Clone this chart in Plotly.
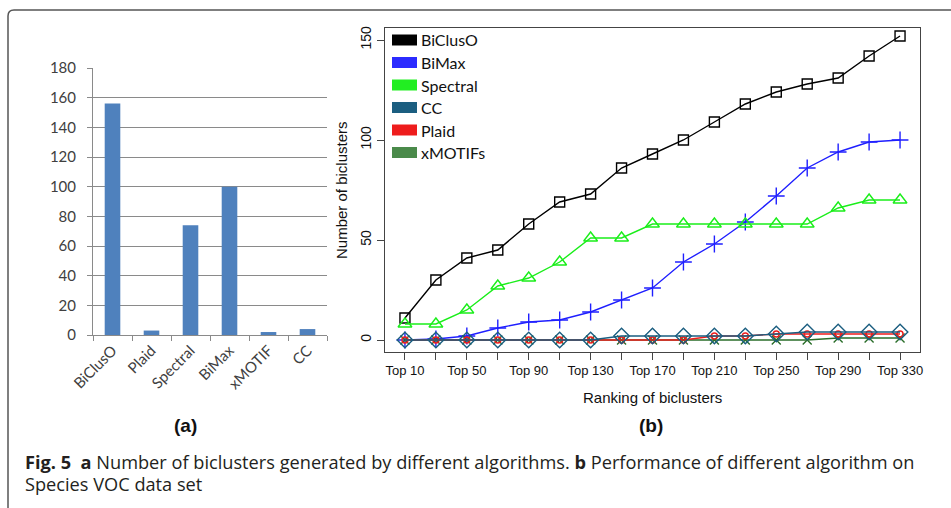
import plotly.graph_objects as go

W, H = 951, 508

# ---------------- data: panel (a) ----------------
algorithms_a = ["BiClusO", "Plaid", "Spectral", "BiMax", "xMOTIF", "CC"]
counts_a = [156, 3, 74, 100, 2, 4]

# ---------------- data: panel (b) ----------------
rank_values = [10, 30, 50, 70, 90, 110, 130, 150, 170, 190, 210, 230, 250, 270, 290, 310, 330]
rank_labels = ["Top 10", "Top 30", "Top 50", "Top 70", "Top 90", "Top 110", "Top 130",
               "Top 150", "Top 170", "Top 190", "Top 210", "Top 230", "Top 250",
               "Top 270", "Top 290", "Top 310", "Top 330"]

series_names = ["BiClusO", "BiMax", "Spectral", "CC", "Plaid", "xMOTIFs"]
bicluso = [11, 30, 41, 45, 58, 69, 73, 86, 93, 100, 109, 118, 124, 128, 131, 142, 152]
bimax = [0, 0.5, 2, 6, 9, 10, 14, 20, 26, 39, 48, 59, 72, 86, 94, 99, 100]
spectral = [8, 8, 15, 27, 31, 39, 51, 51, 58, 58, 58, 58, 58, 58, 66, 70, 70]
cc = [0, 0, 0, 0, 0, 0, 0, 2, 2, 2, 2, 2, 3, 4, 4, 4, 4]
plaid = [0, 0, 0, 0, 0, 0, 0, 0, 0, 0, 2, 2, 3, 3, 3, 3, 3]
xmotifs = [0, 0, 0, 0, 0, 0, 0, 0, 0, 0, 0, 0, 0, 0, 1, 1, 1]

series_values = [bicluso, bimax, spectral, cc, plaid, xmotifs]
series_colors = ["#000000", "#1f1fff", "#1aee1a", "#1b5e80", "#ee1c1c", "#2a6e2a"]
legend_colors = ["#000000", "#2b2bff", "#22ee22", "#1b5e80", "#ee1c1c", "#4a8a4a"]
series_symbols = ["square-open", "cross-thin-open", "triangle-up-open", "diamond-open",
                  "circle-open", "x-thin-open"]
series_sizes = [10, 12, 12, 12, 6, 9]


def px(x):
    return x / W


def py(y):
    return 1 - y / H


fig = go.Figure()

# panel (a) bars
fig.add_trace(go.Bar(
    x=algorithms_a, y=counts_a, marker=dict(color="#4f81bd", line=dict(width=0)),
    width=0.4, xaxis="x", yaxis="y", showlegend=False,
))

# panel (b) lines
draw_order = [0, 1, 2, 5, 4, 3]
for i in draw_order:
    fig.add_trace(go.Scatter(
        x=rank_values, y=series_values[i], name=series_names[i],
        mode="lines+markers",
        line=dict(color=series_colors[i], width=1.4),
        marker=dict(symbol=series_symbols[i], size=series_sizes[i],
                    color=series_colors[i], line=dict(width=1.4, color=series_colors[i])),
        xaxis="x2", yaxis="y2", showlegend=False,
    ))

shown_labels = [lbl if k % 2 == 0 else "" for k, lbl in enumerate(rank_labels)]

shapes = []
# outer figure frame with rounded top-left corner
r = 6
shapes.append(dict(
    type="path", xref="paper", yref="paper",
    path=(f"M {px(8)},{py(520)} L {px(8)},{py(10 + r)} "
          f"Q {px(8)},{py(10)} {px(8 + r)},{py(10)} L {px(960)},{py(10)}"),
    line=dict(color="#555555", width=1.5),
))

# manual legend (filled patches) for panel (b)
leg_rows = [40, 62.5, 85, 107.5, 130, 152.5]
annotations = []
for name, col, yc in zip(series_names, legend_colors, leg_rows):
    shapes.append(dict(type="rect", xref="paper", yref="paper",
                       x0=px(392), x1=px(417), y0=py(yc + 5.5), y1=py(yc - 5.5),
                       fillcolor=col, line=dict(width=0)))
    annotations.append(dict(x=px(419), y=py(yc), xref="paper", yref="paper",
                            text=name, showarrow=False, xanchor="left", yanchor="middle",
                            font=dict(family="Lato", size=16, color="#111111")))

# axis titles and panel labels
annotations += [
    dict(x=px(341), y=py(190), xref="paper", yref="paper", text="Number of biclusters",
         textangle=-90, showarrow=False, xanchor="center", yanchor="middle",
         font=dict(family="Liberation Sans", size=15, color="#111111")),
    dict(x=px(652), y=py(397), xref="paper", yref="paper", text="Ranking of biclusters",
         showarrow=False, xanchor="center", yanchor="middle",
         font=dict(family="Liberation Sans", size=15, color="#111111")),
    dict(x=px(185), y=py(425), xref="paper", yref="paper", text="<b>(a)</b>",
         showarrow=False, xanchor="center", yanchor="middle",
         font=dict(family="Liberation Sans", size=19, color="#111111")),
    dict(x=px(651), y=py(425), xref="paper", yref="paper", text="<b>(b)</b>",
         showarrow=False, xanchor="center", yanchor="middle",
         font=dict(family="Liberation Sans", size=19, color="#111111")),
    dict(x=px(23), y=py(462), xref="paper", yref="paper",
         text=("<b>Fig. 5</b>  <b>a</b> Number of biclusters generated by different algorithms. "
               "<b>b</b> Performance of different algorithm on"),
         showarrow=False, xanchor="left", yanchor="middle",
         font=dict(family="Open Sans", size=18.2, color="#231f20")),
    dict(x=px(23), y=py(484), xref="paper", yref="paper", text="Species VOC data set",
         showarrow=False, xanchor="left", yanchor="middle",
         font=dict(family="Open Sans", size=18.2, color="#231f20")),
]

fig.update_layout(
    template="none",
    width=W, height=H, autosize=False,
    margin=dict(l=0, r=0, t=0, b=0, pad=0),
    paper_bgcolor="white", plot_bgcolor="rgba(0,0,0,0)",
    showlegend=False,
    shapes=shapes, annotations=annotations,
    xaxis=dict(
        domain=[px(93), px(327)], anchor="y", type="category",
        showline=True, linecolor="#8a8a8a", linewidth=1,
        ticks="outside", tickson="boundaries", ticklen=5, tickcolor="#8a8a8a",
        tickangle=-45, showgrid=False, zeroline=False, automargin=False,
        tickfont=dict(family="Lato", size=15, color="#404040"),
    ),
    yaxis=dict(
        domain=[py(335), py(68)], anchor="x", range=[0, 180],
        tickvals=[0, 20, 40, 60, 80, 100, 120, 140, 160, 180],
        showline=True, linecolor="#8a8a8a", linewidth=1,
        ticks="outside", ticklen=5, tickcolor="#8a8a8a",
        showgrid=True, gridcolor="#8a8a8a", gridwidth=1, zeroline=False,
        automargin=False, ticklabelstandoff=8,
        tickfont=dict(family="Lato", size=15, color="#404040"),
    ),
    xaxis2=dict(
        domain=[px(385), px(920)], anchor="y2", range=[-2.9, 342.9],
        tickvals=rank_values, ticktext=shown_labels, tickangle=0,
        showline=True, mirror=True, linecolor="#444444", linewidth=1.3,
        ticks="outside", ticklen=7, tickcolor="#444444", tickwidth=1.2,
        showgrid=False, zeroline=False, automargin=False,
        tickfont=dict(family="Liberation Sans", size=13, color="#111111"),
    ),
    yaxis2=dict(
        domain=[py(351.7), py(27.7)], anchor="x2", range=[-5.85, 156.15],
        tickvals=[0, 50, 100, 150], tickangle=-90,
        showline=True, mirror=True, linecolor="#444444", linewidth=1.3,
        ticks="outside", ticklen=7, tickcolor="#444444", tickwidth=1.2,
        showgrid=False, zeroline=False, automargin=False,
        tickfont=dict(family="Liberation Sans", size=14, color="#111111"),
    ),
)

fig.write_html("out.html")
